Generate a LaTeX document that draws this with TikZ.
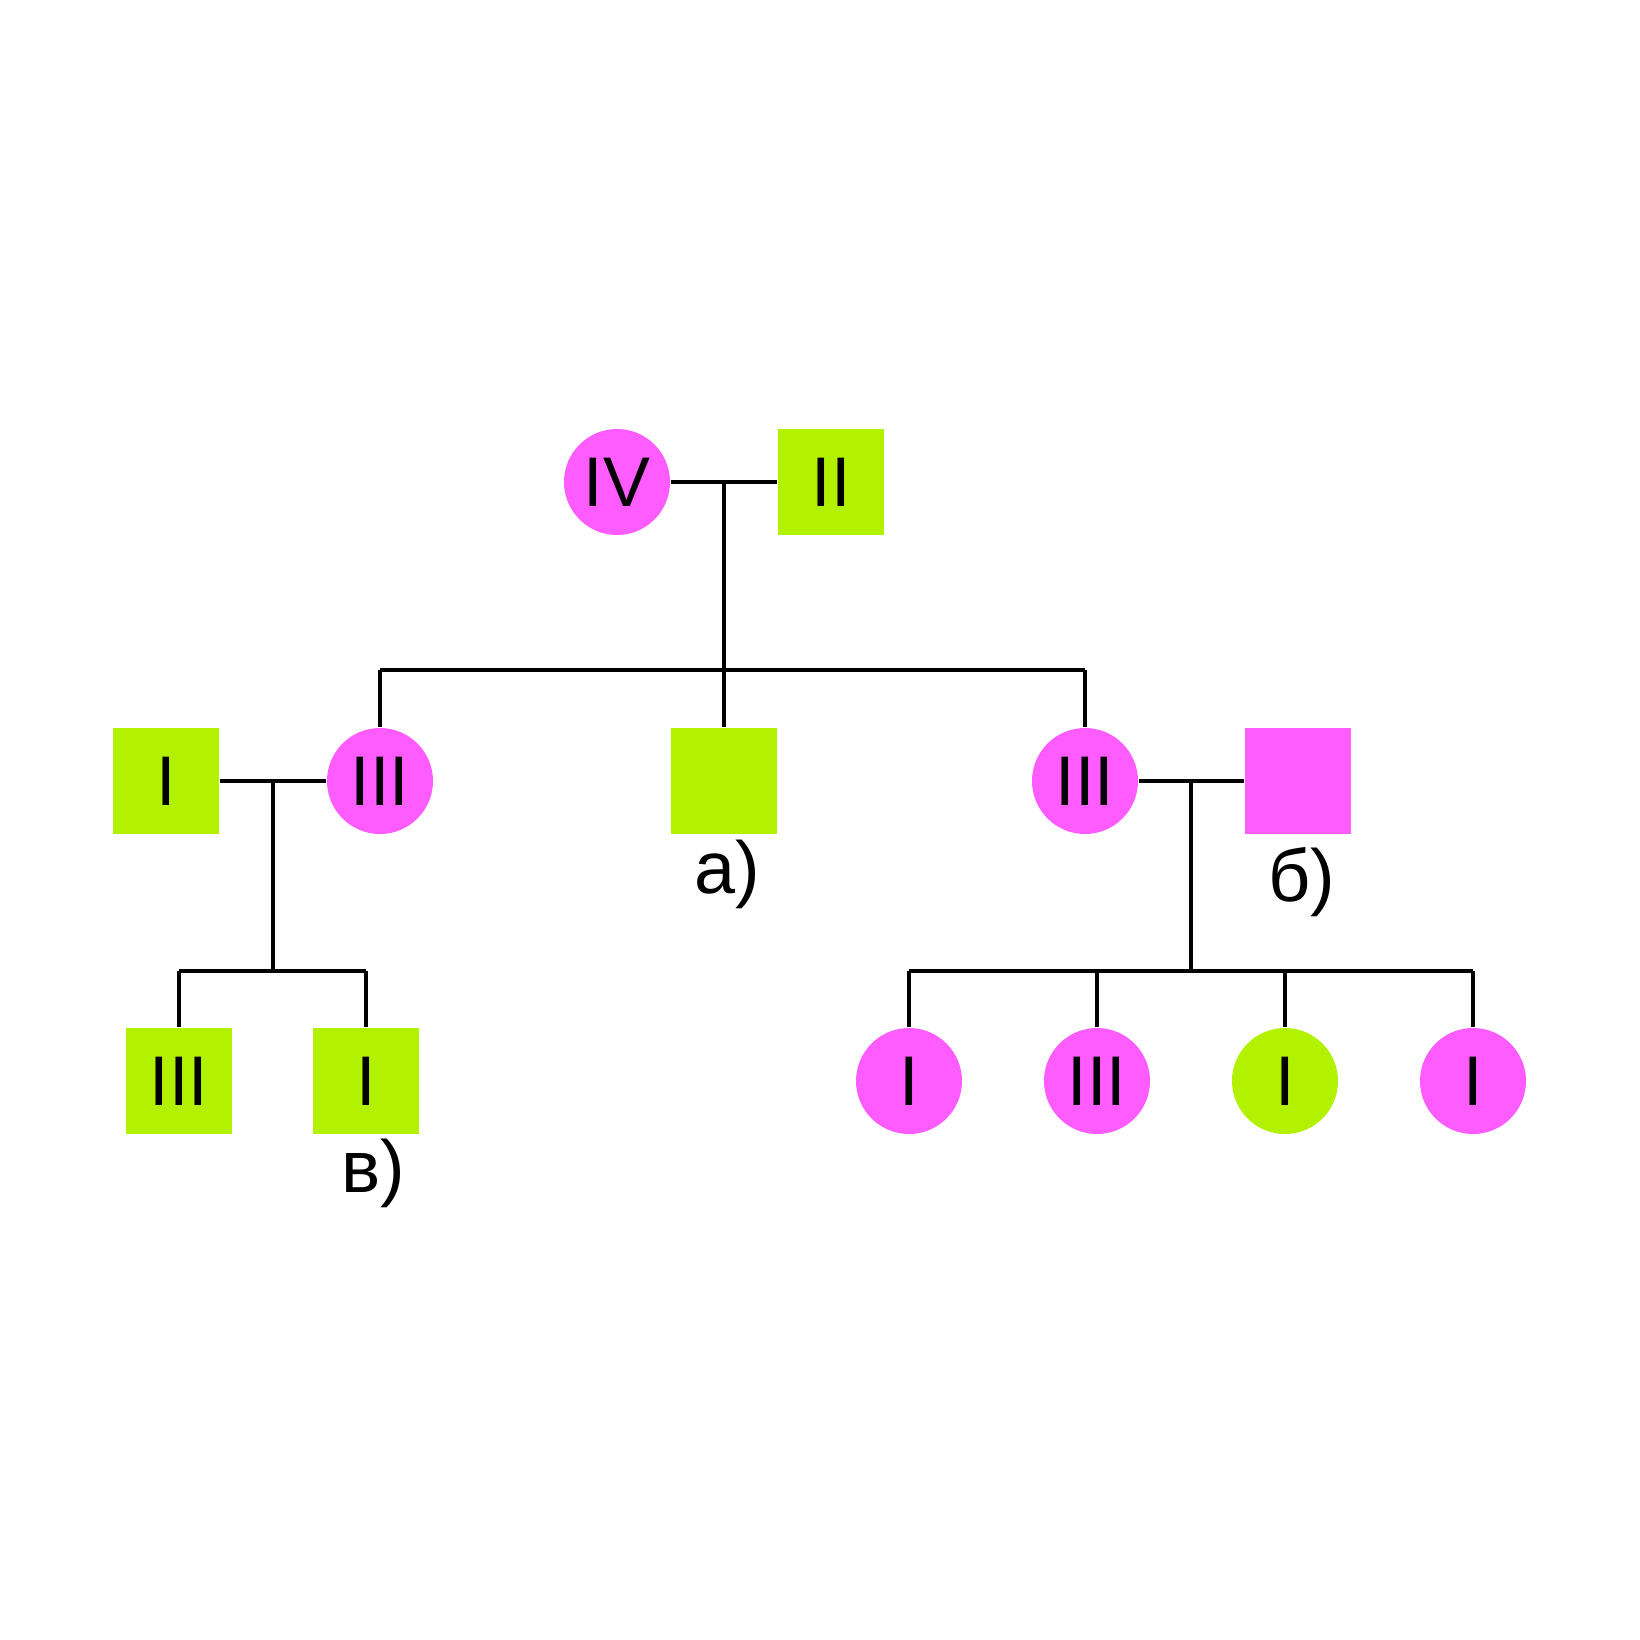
\documentclass[tikz,border=0pt]{standalone}
\usepackage{fontspec}
\setmainfont{Liberation Sans}
\usetikzlibrary{positioning}

\definecolor{pedpink}{HTML}{FF5CFF}
\definecolor{pedlime}{HTML}{B2F200}

\begin{document}
\begin{tikzpicture}[x=0.1mm, y=-0.1mm,
    female/.style={circle, minimum size=10.6mm, inner sep=0pt},
    male/.style={rectangle, minimum size=10.6mm, inner sep=0pt},
    numeral/.style={font=\fontsize{20}{24}\selectfont},
    tag/.style={font=\fontsize{21}{24}\selectfont},
    link/.style={line width=1.1pt}]
    \useasboundingbox (0,0) rectangle (1640,1640);

    % Generation 1
    \node[female, fill=pedpink, numeral] (gmother) at (617,482) {IV};
    \node[male, fill=pedlime, numeral] (gfather) at (831,482) {II};

    % Generation 2
    \node[male, fill=pedlime, numeral] (lhusband) at (166,781) {I};
    \node[female, fill=pedpink, numeral] (ldaughter) at (380,781) {III};
    \node[male, fill=pedlime] (son) at (724,781) {};
    \node[female, fill=pedpink, numeral] (rdaughter) at (1085,781) {III};
    \node[male, fill=pedpink] (rhusband) at (1298,781) {};

    \node[tag] (taga) at (727,874) {а)};
    \node[tag] (tagb) at (1302,882) {б)};

    % Generation 3, left family
    \node[male, fill=pedlime, numeral] (lson1) at (179,1081) {III};
    \node[male, fill=pedlime, numeral] (lson2) at (366,1081) {I};
    \node[tag] (tagc) at (373,1173) {в)};

    % Generation 3, right family
    \node[female, fill=pedpink, numeral] (rgirl1) at (909,1081) {I};
    \node[female, fill=pedpink, numeral] (rgirl2) at (1097,1081) {III};
    \node[female, fill=pedlime, numeral] (rgirl3) at (1285,1081) {I};
    \node[female, fill=pedpink, numeral] (rgirl4) at (1473,1081) {I};

    % Marriages
    \draw[link] (gmother) -- (gfather);
    \draw[link] (lhusband) -- (ldaughter);
    \draw[link] (rdaughter) -- (rhusband);

    \coordinate (topmid) at (724,482);
    \coordinate (topsib) at (724,670);
    \coordinate (lmid) at (273,781);
    \coordinate (lsib) at (273,971);
    \coordinate (rmid) at (1191,781);
    \coordinate (rsib) at (1191,971);

    % Descent lines
    \draw[link] (topmid) -- (son.north);
    \draw[link] (topsib -| ldaughter) -- (topsib -| rdaughter);
    \draw[link] (topsib -| ldaughter) -- (ldaughter.north);
    \draw[link] (topsib -| rdaughter) -- (rdaughter.north);

    \draw[link] (lmid) -- (lsib);
    \draw[link] (lsib -| lson1) -- (lsib -| lson2);
    \draw[link] (lsib -| lson1) -- (lson1.north);
    \draw[link] (lsib -| lson2) -- (lson2.north);

    \draw[link] (rmid) -- (rsib);
    \draw[link] (rsib -| rgirl1) -- (rsib -| rgirl4);
    \foreach \kid in {rgirl1, rgirl2, rgirl3, rgirl4}
        \draw[link] (rsib -| \kid) -- (\kid.north);
\end{tikzpicture}
\end{document}
